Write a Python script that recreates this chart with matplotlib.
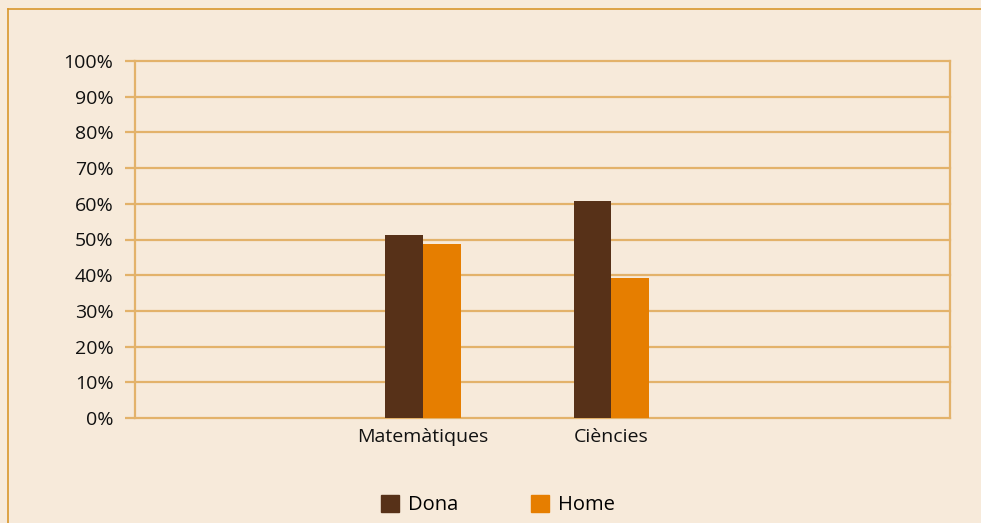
import matplotlib
matplotlib.use("Agg")
import matplotlib.pyplot as plt
from matplotlib.lines import Line2D
from matplotlib.patches import Patch
import numpy as np

plt.rcParams['font.family'] = ['Open Sans', 'DejaVu Sans']

categories = ['Matemàtiques', 'Ciències']
dona = [51.3, 60.8]
home = [48.7, 39.2]
yticks = [0, 10, 20, 30, 40, 50, 60, 70, 80, 90, 100]

bg = '#f7eada'
grid_c = '#e3b26a'
border_c = '#d8962c'
dona_c = '#573118'
home_c = '#e67e00'

fig = plt.figure(figsize=(9.81, 5.23), dpi=100, facecolor=bg)
ax = fig.add_axes([135 / 981, 1 - 418 / 523, 815 / 981, 357 / 523])
ax.set_facecolor(bg)

x = np.arange(len(categories))
w = 0.2
ax.bar(x - w / 2, dona, w, color=dona_c, zorder=3)
ax.bar(x + w / 2, home, w, color=home_c, zorder=3)

ax.set_xlim(-1.53, 2.80)
ax.set_ylim(0, 100)
ax.set_yticks(yticks)
ax.set_yticklabels([f'{v}%' for v in yticks])
ax.set_xticks(x)
ax.set_xticklabels(categories)

ax.yaxis.grid(True, color=grid_c, linewidth=1.6, zorder=0)
for gl in ax.get_ygridlines():
    gl.set_clip_on(False)
ax.tick_params(axis='y', length=7.5, width=1.6, color=grid_c, pad=8,
               labelsize=14, labelcolor='#111111')
ax.tick_params(axis='x', length=0, pad=7, labelsize=14, labelcolor='#111111')
for s in ['top', 'bottom']:
    ax.spines[s].set_visible(False)
for s in ['left', 'right']:
    ax.spines[s].set_color(grid_c)
    ax.spines[s].set_linewidth(1.6)

# frame lines of the panel
fig.add_artist(Line2D([8 / 981, 1], [1 - 9 / 523, 1 - 9 / 523],
                      transform=fig.transFigure, color=border_c, linewidth=1.2))
fig.add_artist(Line2D([8 / 981, 8 / 981], [0, 1 - 9 / 523],
                      transform=fig.transFigure, color=border_c, linewidth=1.2))

handles = [Patch(color=dona_c, label='Dona'), Patch(color=home_c, label='Home')]
fig.legend(handles=handles, loc='center', bbox_to_anchor=(498 / 981, 1 - 505 / 523),
           ncol=2, frameon=False, fontsize=14.5, handlelength=0.9, handleheight=0.9,
           columnspacing=3.6, handletextpad=0.45)

fig.savefig('out.png', dpi=100, facecolor=bg)
